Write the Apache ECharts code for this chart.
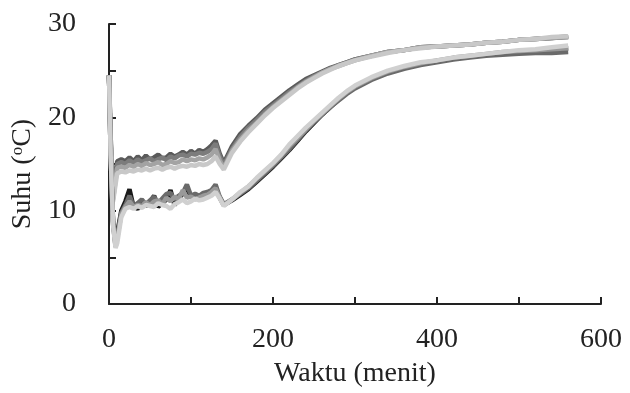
<!DOCTYPE html>
<html>
<head>
<meta charset="utf-8">
<script src="https://cdn.jsdelivr.net/npm/echarts@6/dist/echarts.min.js"></script>
<style>html,body{margin:0;padding:0;background:#fff}#c{width:630px;height:393px}</style>
</head>
<body>
<div id="c"></div>
<script>
const times = [0,2,5,8,10,15,20,25,30,35,40,45,50,55,60,65,70,75,80,85,90,95,100,105,110,115,120,125,130,135,140,150,160,170,180,190,200,210,220,230,240,250,260,270,280,290,300,320,340,360,380,400,420,440,460,480,500,520,540,560];

// upper group
const upperDark = [24.5,18,11.8,13.8,15.3,15.5,15.3,15.7,15.3,15.8,15.4,15.9,15.5,15.7,16.0,15.6,15.7,16.1,15.8,16.0,16.3,16.0,16.4,16.1,16.5,16.3,16.6,17.0,17.5,16.1,15.1,16.9,18.2,19.1,19.9,20.8,21.5,22.2,22.9,23.5,24.1,24.5,24.9,25.3,25.6,25.9,26.2,26.6,27.0,27.2,27.5,27.6,27.7,27.8,28.0,28.1,28.3,28.4,28.5,28.6];
const upperMid = [24.5,17.5,11.5,13.5,15.0,15.2,15.0,15.4,15.1,15.5,15.2,15.4,15.6,15.3,15.5,15.7,15.4,15.8,15.6,15.9,16.0,15.8,16.1,16.0,16.2,16.1,16.3,16.6,17.2,15.8,14.9,16.6,17.9,18.9,19.7,20.6,21.3,22.0,22.7,23.3,23.9,24.4,24.8,25.2,25.6,25.9,26.2,26.6,27.0,27.2,27.5,27.6,27.7,27.8,28.0,28.1,28.3,28.4,28.5,28.7];
const upperGray = [24.5,17.2,11.2,13.2,14.6,14.7,14.6,14.9,14.7,15.0,14.8,15.1,14.9,15.0,15.2,14.9,15.0,15.3,15.1,15.2,15.5,15.3,15.5,15.4,15.6,15.5,15.7,16.0,16.6,15.4,14.6,16.4,17.6,18.6,19.4,20.3,21.1,21.8,22.5,23.2,23.8,24.3,24.8,25.2,25.5,25.8,26.1,26.6,27.0,27.2,27.5,27.6,27.7,27.8,28.0,28.1,28.3,28.4,28.5,28.6];
const upperLight = [24.5,17,11,12.8,14.0,14.2,14.1,14.3,14.2,14.4,14.3,14.5,14.3,14.5,14.6,14.4,14.6,14.7,14.5,14.7,14.8,14.7,14.9,14.8,15.0,14.9,15.0,15.3,15.8,15.0,14.4,16.2,17.4,18.4,19.3,20.2,21.0,21.7,22.4,23.1,23.7,24.2,24.7,25.1,25.5,25.8,26.1,26.5,26.9,27.2,27.4,27.6,27.7,27.8,28.0,28.1,28.3,28.4,28.6,28.7];

// lower group
const lowerBlack = [24.5,16,8.8,6.4,7.6,10.0,11.0,12.3,10.4,10.2,10.8,10.5,10.9,11.6,10.4,10.8,11.2,12.2,10.6,11.3,11.8,12.5,11.4,11.7,11.5,11.8,11.9,12.0,12.4,11.4,10.6,11.1,11.7,12.3,13.1,13.9,14.7,15.6,16.5,17.5,18.5,19.4,20.3,21.1,21.9,22.6,23.2,24.1,24.8,25.3,25.7,26.0,26.3,26.5,26.7,26.9,27.0,27.1,27.3,27.4];
const lowerDark = [24.5,16,8.6,6.2,7.3,9.8,10.6,11.6,10.5,10.8,11.2,10.7,11.1,11.5,10.8,11.3,11.8,11.9,11.2,11.6,11.9,12.8,11.6,11.8,11.6,11.9,12.0,12.2,12.8,11.5,10.7,11.2,11.8,12.4,13.2,14.0,14.8,15.7,16.6,17.6,18.6,19.5,20.3,21.1,21.8,22.5,23.1,24.0,24.7,25.2,25.6,25.9,26.2,26.4,26.6,26.7,26.8,26.9,26.9,27.0];
const lowerGray = [24.5,16,8.5,6.1,7.0,9.6,10.4,11.0,10.4,10.6,10.5,10.9,10.6,11.0,11.1,10.7,11.4,11.0,11.5,11.2,12.2,11.4,11.5,11.2,11.4,11.6,11.7,12.0,12.4,11.4,10.6,11.2,11.9,12.6,13.4,14.2,15.0,15.9,16.9,17.8,18.7,19.6,20.4,21.2,22.0,22.7,23.3,24.2,24.9,25.4,25.8,26.1,26.4,26.6,26.8,27.0,27.1,27.2,27.3,27.4];
const lowerLight = [24.5,16,8.4,6.0,6.5,9.3,10.2,10.4,10.2,10.5,10.3,10.6,10.5,10.4,10.8,10.6,10.5,10.2,10.7,10.9,11.2,10.8,11.0,11.3,11.1,11.2,11.4,11.6,12.0,11.3,10.5,11.2,12.0,12.6,13.5,14.3,15.1,16.0,17.1,18.0,18.9,19.7,20.5,21.3,22.1,22.8,23.4,24.3,25.0,25.5,25.9,26.1,26.4,26.6,26.8,27.0,27.2,27.3,27.5,27.7];

const seriesValues = [upperDark, upperMid, upperGray, upperLight, lowerBlack, lowerDark, lowerGray, lowerLight];
const seriesColors = ['#5a5a5a','#7c7c7c','#a3a3a3','#c8c8c8','#1a1a1a','#6a6a6a','#999999','#d0d0d0'];

const xTickLabels = [0,200,400,600];
const yTickLabels = [0,10,20,30];

const font = 'Liberation Serif';
const chart = echarts.init(document.getElementById('c'), null, {renderer:'canvas'});
chart.setOption({
  animation:false,
  backgroundColor:'#fff',
  grid:{left:109,right:29,top:24,bottom:82,containLabel:false},
  xAxis:{
    type:'value',min:0,max:600,interval:100,
    name:'Waktu (menit)',nameLocation:'middle',nameGap:56,
    nameTextStyle:{fontFamily:font,fontSize:28,color:'#222'},
    axisLine:{show:true,lineStyle:{color:'#222',width:2}},
    axisTick:{show:true,inside:true,length:7,lineStyle:{color:'#222',width:2}},
    axisLabel:{fontFamily:font,fontSize:28,color:'#222',margin:22,
      formatter:v=>xTickLabels.includes(v)?String(v):''},
    splitLine:{show:false}
  },
  yAxis:{
    type:'value',min:0,max:30,interval:5,
    name:'Suhu ({sup|o}C)',nameLocation:'middle',nameGap:70,nameRotate:90,
    nameTextStyle:{fontFamily:font,fontSize:28,color:'#222',padding:[0,20,0,0],
      rich:{sup:{fontFamily:font,fontSize:17,color:'#222',verticalAlign:'top',lineHeight:28}}},
    axisLine:{show:true,lineStyle:{color:'#222',width:2}},
    axisTick:{show:true,inside:true,length:7,lineStyle:{color:'#222',width:2}},
    axisLabel:{fontFamily:font,fontSize:28,color:'#222',margin:33,padding:[6,0,0,0],
      formatter:v=>yTickLabels.includes(v)?String(v):''},
    splitLine:{show:false}
  },
  series:seriesValues.map((vals,i)=>({
    type:'line',
    data:times.map((t,j)=>[t,vals[j]]),
    showSymbol:false,
    lineStyle:{color:seriesColors[i],width:4.5},
    smooth:false
  }))
});
</script>
</body>
</html>
